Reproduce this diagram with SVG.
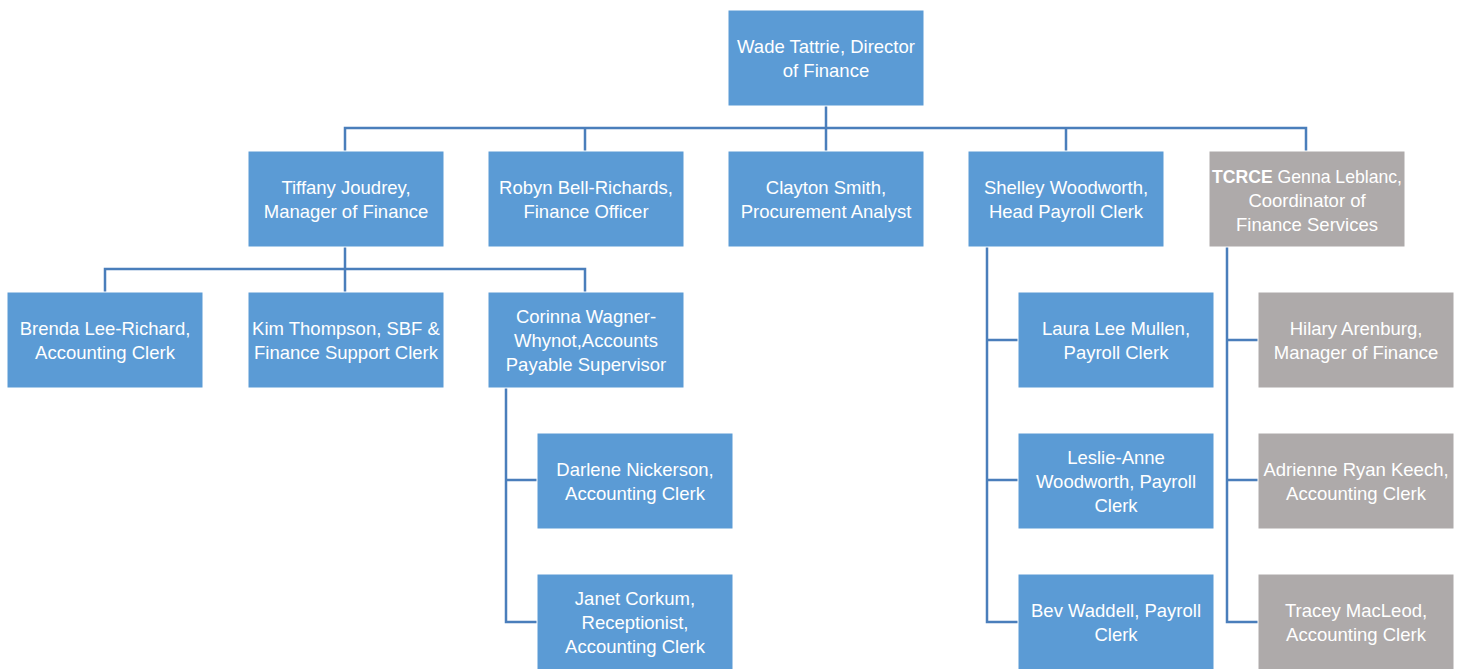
<svg xmlns="http://www.w3.org/2000/svg" width="1460" height="669" viewBox="0 0 1460 669">
<style>
.b{fill:#5b9bd5;stroke:#ffffff;stroke-width:1}
.g{fill:#aeaaaa;stroke:#ffffff;stroke-width:1}
text{font-family:"Liberation Sans",Arial,sans-serif;font-size:18.5px;fill:#ffffff;text-anchor:middle}
.c{fill:none;stroke:#4a7ebb;stroke-width:2.5}
</style>
<rect width="1460" height="669" fill="#ffffff"/>
<g id="connectors" class="c">
<path d="M826 106V128M345 151V128H1306V151M585 128V151M826 128V151M1066 128V151"/>
<path d="M345 247V269M105 292V269H585V292M345 269V292"/>
<path d="M506 388V622H537M506 480H537"/>
<path d="M987 247V622H1018M987 340H1018M987 480H1018"/>
<path d="M1227 247V622H1258M1227 340H1258M1227 480H1258"/>
</g>
<g id="wade"><rect class="b" x="728" y="10" width="196" height="96"/><text x="826" y="53">Wade Tattrie, Director</text><text x="826" y="77">of Finance</text></g>
<g id="tiffany"><rect class="b" x="248" y="151" width="196" height="96"/><text x="346" y="194">Tiffany Joudrey,</text><text x="346" y="218">Manager of Finance</text></g>
<g id="robyn"><rect class="b" x="488" y="151" width="196" height="96"/><text x="586" y="194">Robyn Bell-Richards,</text><text x="586" y="218">Finance Officer</text></g>
<g id="clayton"><rect class="b" x="728" y="151" width="196" height="96"/><text x="826" y="194">Clayton Smith,</text><text x="826" y="218">Procurement Analyst</text></g>
<g id="shelley"><rect class="b" x="968" y="151" width="196" height="96"/><text x="1066" y="194">Shelley Woodworth,</text><text x="1066" y="218">Head Payroll Clerk</text></g>
<g id="genna"><rect class="g" x="1209" y="151" width="196" height="96"/><text x="1307" y="183" textLength="190" lengthAdjust="spacingAndGlyphs"><tspan font-weight="bold">TCRCE</tspan> Genna Leblanc,</text><text x="1307" y="207">Coordinator of</text><text x="1307" y="231">Finance Services</text></g>
<g id="brenda"><rect class="b" x="7" y="292" width="196" height="96"/><text x="105" y="335">Brenda Lee-Richard,</text><text x="105" y="359">Accounting Clerk</text></g>
<g id="kim"><rect class="b" x="248" y="292" width="196" height="96"/><text x="346" y="335">Kim Thompson, SBF &amp;</text><text x="346" y="359">Finance Support Clerk</text></g>
<g id="corinna"><rect class="b" x="488" y="292" width="196" height="96"/><text x="586" y="323">Corinna Wagner-</text><text x="586" y="347">Whynot,Accounts</text><text x="586" y="371">Payable Supervisor</text></g>
<g id="darlene"><rect class="b" x="537" y="433" width="196" height="96"/><text x="635" y="476">Darlene Nickerson,</text><text x="635" y="500">Accounting Clerk</text></g>
<g id="janet"><rect class="b" x="537" y="574" width="196" height="96"/><text x="635" y="605">Janet Corkum,</text><text x="635" y="629">Receptionist,</text><text x="635" y="653">Accounting Clerk</text></g>
<g id="laura"><rect class="b" x="1018" y="292" width="196" height="96"/><text x="1116" y="335">Laura Lee Mullen,</text><text x="1116" y="359">Payroll Clerk</text></g>
<g id="leslie"><rect class="b" x="1018" y="433" width="196" height="96"/><text x="1116" y="464">Leslie-Anne</text><text x="1116" y="488">Woodworth, Payroll</text><text x="1116" y="512">Clerk</text></g>
<g id="bev"><rect class="b" x="1018" y="574" width="196" height="96"/><text x="1116" y="617">Bev Waddell, Payroll</text><text x="1116" y="641">Clerk</text></g>
<g id="hilary"><rect class="g" x="1258" y="292" width="196" height="96"/><text x="1356" y="335">Hilary Arenburg,</text><text x="1356" y="359">Manager of Finance</text></g>
<g id="adrienne"><rect class="g" x="1258" y="433" width="196" height="96"/><text x="1356" y="476">Adrienne Ryan Keech,</text><text x="1356" y="500">Accounting Clerk</text></g>
<g id="tracey"><rect class="g" x="1258" y="574" width="196" height="96"/><text x="1356" y="617">Tracey MacLeod,</text><text x="1356" y="641">Accounting Clerk</text></g>
</svg>
